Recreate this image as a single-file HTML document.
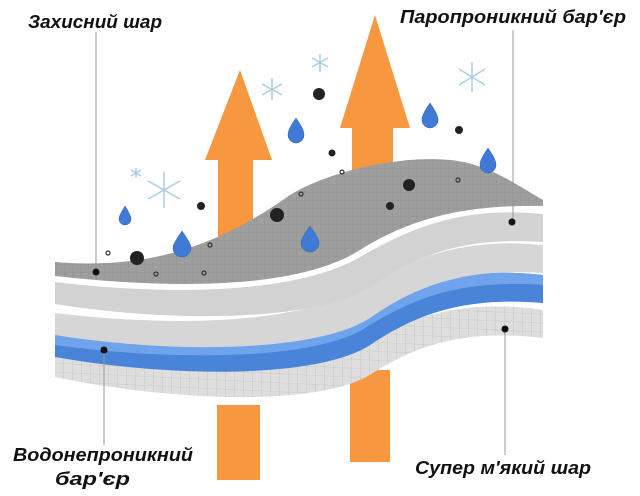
<!DOCTYPE html>
<html><head><meta charset="utf-8"><style>
html,body{margin:0;padding:0;background:#fff;}
svg{display:block;}
text{font-family:"Liberation Sans",sans-serif;font-weight:bold;font-style:italic;font-size:18px;fill:#111;}
</style></head><body>
<svg width="640" height="496" viewBox="0 0 640 496" xmlns="http://www.w3.org/2000/svg">
<defs>
<pattern id="g" width="8" height="8" patternUnits="userSpaceOnUse"><path d="M8 0H0V8" fill="none" stroke="#8a8a8a" stroke-width="0.6"/></pattern>
<pattern id="g2" width="9" height="9" patternUnits="userSpaceOnUse"><path d="M9 0H0V9" fill="none" stroke="#b5b5b5" stroke-width="0.6"/></pattern>
<path id="band" d="M55 280C180 295 300 290 360 255C420 220 470 205 543 212L543 240C470 235 420 250 370 285C320 318 180 322 55 302Z"/>
</defs>
<path d="M217 405H260V480H217Z" fill="#f7973f"/>
<path d="M350 370H390V462H350Z" fill="#f7973f"/>
<path d="M240 70L272 160H253V265H218V160H205Z" fill="#f7973f"/>
<path d="M375 15L410 128H393V215H352V128H340Z" fill="#f7973f"/>
<!-- layer 5 grid -->
<g transform="matrix(1,0.047,0,1,0,72.4)">
<use href="#band" fill="#dedede"/><use href="#band" fill="url(#g2)"/>
</g>
<!-- layer 4 blue -->
<g transform="matrix(1,0.0164,0,1,0,54.1)">
<use href="#band" fill="#4a84d8"/>
<path d="M55 280C180 295 300 290 360 255C420 220 470 205 543 212L543 222C470 218 420 232 365 268C315 300 180 305 55 290Z" fill="#6fa3ec"/>
</g>
<g transform="translate(0,33)"><use href="#band" fill="#d6d6d6"/></g>
<g transform="translate(0,2)"><use href="#band" fill="#d2d2d2"/></g>
<!-- layer 1 -->
<path d="M55 262C150 270 220 245 290 195C340 165 430 150 475 165C505 175 525 190 543 200L543 206C480 205 420 212 360 250C300 288 180 290 55 276Z" fill="#9e9e9e"/>
<path d="M55 262C150 270 220 245 290 195C340 165 430 150 475 165C505 175 525 190 543 200L543 206C480 205 420 212 360 250C300 288 180 290 55 276Z" fill="url(#g)"/>
<g fill="#3f7bd6" stroke="#2a5fb0" stroke-width="0.5">
<path d="M296 118c-7 10-8 14-8 17a8 8 0 0 0 16 0c0-3-1-7-8-17z"/>
<path d="M430 103c-7 10-8 14-8 17a8 8 0 0 0 16 0c0-3-1-7-8-17z"/>
<path d="M488 148c-7 10-8 14-8 17a8 8 0 0 0 16 0c0-3-1-7-8-17z"/>
<path d="M125 206c-5 8-6 11-6 13a6 6 0 0 0 12 0c0-2-1-5-6-13z"/>
<path d="M182 231c-7 10-9 14-9 17a9 9 0 0 0 18 0c0-3-2-7-9-17z"/>
<path d="M310 226c-7 10-9 14-9 17a9 9 0 0 0 18 0c0-3-2-7-9-17z"/>
</g>
<g fill="#222">
<circle cx="319" cy="94" r="6"/><circle cx="409" cy="185" r="6"/><circle cx="277" cy="215" r="7"/>
<circle cx="137" cy="258" r="7"/><circle cx="201" cy="206" r="4"/><circle cx="332" cy="153" r="3.5"/>
<circle cx="459" cy="130" r="4"/><circle cx="390" cy="206" r="4"/>
</g>
<g fill="none" stroke="#333" stroke-width="1.2">
<circle cx="108" cy="253" r="2"/><circle cx="156" cy="274" r="2"/><circle cx="210" cy="245" r="2"/>
<circle cx="204" cy="273" r="2"/><circle cx="301" cy="194" r="2"/><circle cx="458" cy="180" r="2"/><circle cx="342" cy="172" r="2"/>
</g>
<g stroke="#a8cfe6" stroke-width="1.5" fill="none">
<path d="M164 172v36M148 181l32 18M148 199l32-18"/>
<path d="M472 62v30M459 69l26 16M459 85l26-16"/>
<path d="M272 78v22M262 84l20 11M262 95l20-11"/>
<path d="M320 54v18M312 58l16 9M312 67l16-9"/>
<path d="M136 168v10M131 170l10 6M131 176l10-6"/>
</g>
<g stroke="#999" stroke-width="1">
<line x1="96" y1="32" x2="96" y2="270"/>
<line x1="513" y1="30" x2="513" y2="222"/>
<line x1="104" y1="352" x2="104" y2="445"/>
<line x1="505" y1="330" x2="505" y2="455"/>
</g>
<g fill="#111"><circle cx="96" cy="272" r="3.5"/><circle cx="512" cy="222" r="3.5"/><circle cx="104" cy="350" r="3.5"/><circle cx="505" cy="329" r="3.5"/></g>
<text x="28" y="28" textLength="134" lengthAdjust="spacingAndGlyphs">Захисний шар</text>
<text x="400" y="23" textLength="226" lengthAdjust="spacingAndGlyphs">Паропроникний бар'єр</text>
<text x="13" y="461" textLength="180" lengthAdjust="spacingAndGlyphs">Водонепроникний</text>
<text x="55" y="485" textLength="75" lengthAdjust="spacingAndGlyphs">бар'єр</text>
<text x="415" y="474" textLength="176" lengthAdjust="spacingAndGlyphs">Супер м'який шар</text>
</svg>
</body></html>
